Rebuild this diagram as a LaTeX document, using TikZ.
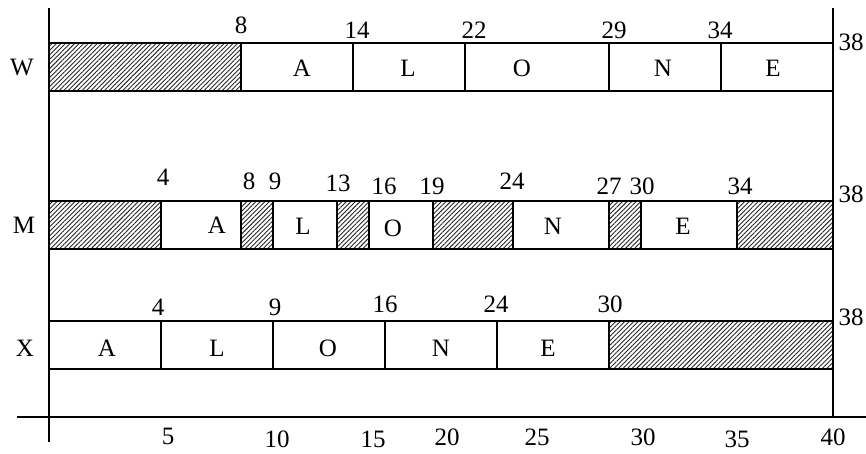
\documentclass[tikz,border=0pt]{standalone}
\usepackage{fontspec}
\setmainfont{Liberation Serif}
\usetikzlibrary{patterns.meta}
\begin{document}
\begin{tikzpicture}[x=1pt,y=-1pt,
  ln/.style={line width=1.7pt},
  hatch/.style={pattern={Lines[angle=45,distance=3.2pt,line width=0.9pt]},pattern color=black!85},
  lbl/.style={font=\fontsize{25}{27}\selectfont, inner sep=0pt},
]
\useasboundingbox (0,0) rectangle (866,453);
% hatched areas
\fill[hatch] (49,43) rectangle (241,91);
\foreach \a/\b in {49/161,241/273,337/369,433/513,609/641,737/833}
  \fill[hatch] (\a,201) rectangle (\b,249);
\fill[hatch] (609,321) rectangle (833,369);
% axes
\draw[ln] (49,8) -- (49,442);
\draw[ln] (833,8) -- (833,417);
\draw[ln] (17,417) -- (866,417);
% rows
\foreach \t/\bt in {43/91,201/249,321/369}{
  \draw[ln] (49,\t) -- (833,\t);
  \draw[ln] (49,\bt) -- (833,\bt);
}
\foreach \x in {241,353,465,609,721} \draw[ln] (\x,43) -- (\x,91);
\foreach \x in {161,241,273,337,369,433,513,609,641,737} \draw[ln] (\x,201) -- (\x,249);
\foreach \x in {161,273,385,497,609} \draw[ln] (\x,321) -- (\x,369);
% row labels
\node[lbl] (rW) at (22,68) {W};
\node[lbl] (rM) at (24,225) {M};
\node[lbl] (rX) at (25,348) {X};
% W row
\node[lbl] (w8) at (241,25) {8};
\node[lbl] (w14) at (357,30) {14};
\node[lbl] (w22) at (474,30) {22};
\node[lbl] (w29) at (614,30) {29};
\node[lbl] (w34) at (720,30) {34};
\node[lbl] (w38) at (851,42) {38};
\node[lbl] (wA) at (302,68) {A};
\node[lbl] (wL) at (408,68) {L};
\node[lbl] (wO) at (522,68) {O};
\node[lbl] (wN) at (663,68) {N};
\node[lbl] (wE) at (773,68) {E};
% M row
\node[lbl] (m4) at (163,177) {4};
\node[lbl] (m8) at (249,181) {8};
\node[lbl] (m9) at (275,181) {9};
\node[lbl] (m13) at (338,183) {13};
\node[lbl] (m16) at (384,186) {16};
\node[lbl] (m19) at (432,186) {19};
\node[lbl] (m24) at (512,181) {24};
\node[lbl] (m27) at (609,186) {27};
\node[lbl] (m30) at (642,186) {30};
\node[lbl] (m34) at (740,186) {34};
\node[lbl] (m38) at (851,194) {38};
\node[lbl] (mA) at (217,225) {A};
\node[lbl] (mL) at (303,226) {L};
\node[lbl] (mO) at (393,228) {O};
\node[lbl] (mN) at (553,226) {N};
\node[lbl] (mE) at (683,226) {E};
% X row
\node[lbl] (x4) at (158,307) {4};
\node[lbl] (x9) at (275,307) {9};
\node[lbl] (x16) at (385,304) {16};
\node[lbl] (x24) at (496,304) {24};
\node[lbl] (x30) at (610,304) {30};
\node[lbl] (x38) at (851,317) {38};
\node[lbl] (xA) at (107,348) {A};
\node[lbl] (xL) at (217,348) {L};
\node[lbl] (xO) at (328,348) {O};
\node[lbl] (xN) at (441,348) {N};
\node[lbl] (xE) at (548,348) {E};
% axis labels
\node[lbl] (a5) at (168,436) {5};
\node[lbl] (a10) at (277,439) {10};
\node[lbl] (a15) at (373,439) {15};
\node[lbl] (a20) at (447,437) {20};
\node[lbl] (a25) at (537,437) {25};
\node[lbl] (a30) at (643,437) {30};
\node[lbl] (a35) at (737,439) {35};
\node[lbl] (a40) at (833,437) {40};
\end{tikzpicture}
\end{document}
